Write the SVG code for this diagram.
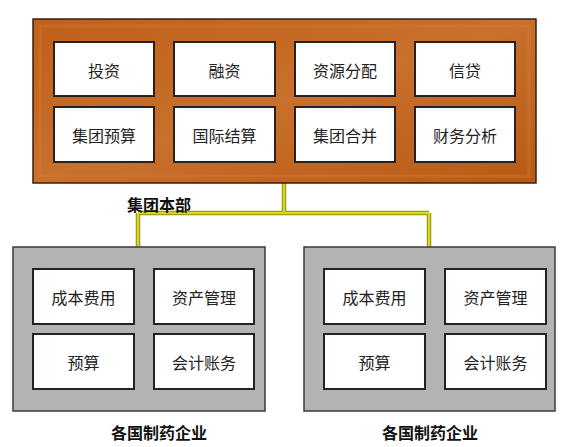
<svg xmlns="http://www.w3.org/2000/svg" width="564" height="447" viewBox="0 0 564 447">
<defs>
<linearGradient id="wood" x1="0" y1="0" x2="1" y2="1">
<stop offset="0" stop-color="#c0601a"/>
<stop offset="0.5" stop-color="#c8702c"/>
<stop offset="1" stop-color="#b85a14"/>
</linearGradient>
</defs>
<style>
.cell{fill:#ffffff;stroke:#2a2020;stroke-width:2}
.lbl{font-family:"Noto Sans CJK SC","Noto Sans",sans-serif;font-size:16px;fill:#222;text-anchor:middle;dominant-baseline:central}
.title{font-family:"Noto Sans CJK SC","Noto Sans",sans-serif;font-size:16px;font-weight:bold;fill:#111;text-anchor:middle;dominant-baseline:central}
.gray{fill:#b3b3b3;stroke:#3a3a3a;stroke-width:1.5}
.wire-o{fill:none;stroke:#8f8f10;stroke-width:4.5}
.wire{fill:none;stroke:#d6d624;stroke-width:2.5}
</style>
<rect width="564" height="447" fill="#ffffff"/>
<g id="connectors">
<path class="wire-o" d="M284,183 V213 M138,213 H429 M138,213 V248 M429,213 V249"/>
<path class="wire" d="M284,183 V213 M138,213 H429 M138,213 V248 M429,213 V249"/>
</g>
<g id="hq">
<rect x="33" y="19" width="503" height="164" fill="url(#wood)" stroke="#3a2010" stroke-width="1.5"/>
<rect x="40" y="26" width="489" height="150" fill="none" stroke="#d4803e" stroke-width="3" opacity="0.35"/>
<rect class="cell" x="54" y="42" width="100" height="54"/><text class="lbl" x="104" y="70">投资</text>
<rect class="cell" x="174" y="42" width="101" height="54"/><text class="lbl" x="224.5" y="70">融资</text>
<rect class="cell" x="295" y="42" width="100" height="54"/><text class="lbl" x="345" y="70">资源分配</text>
<rect class="cell" x="415" y="42" width="100" height="54"/><text class="lbl" x="465" y="70">信贷</text>
<rect class="cell" x="54" y="107" width="100" height="55"/><text class="lbl" x="104" y="135">集团预算</text>
<rect class="cell" x="174" y="107" width="101" height="55"/><text class="lbl" x="224.5" y="135">国际结算</text>
<rect class="cell" x="295" y="107" width="100" height="55"/><text class="lbl" x="345" y="135">集团合并</text>
<rect class="cell" x="415" y="107" width="100" height="55"/><text class="lbl" x="465" y="135">财务分析</text>
<text class="title" x="159" y="204">集团本部</text>
</g>
<g id="subsidiary-left">
<rect class="gray" x="13" y="247" width="252" height="164"/>
<rect class="cell" x="33" y="269" width="101" height="55"/><text class="lbl" x="83.5" y="297">成本费用</text>
<rect class="cell" x="154" y="269" width="100" height="55"/><text class="lbl" x="204" y="297">资产管理</text>
<rect class="cell" x="33" y="334" width="101" height="55"/><text class="lbl" x="83.5" y="362">预算</text>
<rect class="cell" x="154" y="334" width="100" height="55"/><text class="lbl" x="204" y="362">会计账务</text>
<text class="title" x="159" y="432">各国制药企业</text>
</g>
<g id="subsidiary-right">
<rect class="gray" x="304" y="247" width="251" height="164"/>
<rect class="cell" x="324" y="269" width="101" height="55"/><text class="lbl" x="374.5" y="297">成本费用</text>
<rect class="cell" x="445" y="269" width="101" height="55"/><text class="lbl" x="495.5" y="297">资产管理</text>
<rect class="cell" x="324" y="334" width="101" height="55"/><text class="lbl" x="374.5" y="362">预算</text>
<rect class="cell" x="445" y="334" width="101" height="55"/><text class="lbl" x="495.5" y="362">会计账务</text>
<text class="title" x="430" y="432">各国制药企业</text>
</g>
</svg>
